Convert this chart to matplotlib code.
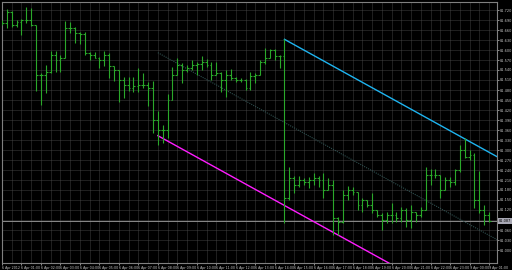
import matplotlib
matplotlib.use("Agg")
import matplotlib.pyplot as plt

# ---- data (M15 bars, price) ----
opens = [81.684, 81.681, 81.714, 81.675, 81.684, 81.690, 81.690, 81.675, 81.525, 81.525,
         81.534, 81.585, 81.570, 81.576, 81.666, 81.666, 81.651, 81.648, 81.591, 81.585,
         81.576, 81.570, 81.585, 81.552, 81.540, 81.510, 81.495, 81.486, 81.492, 81.495,
         81.495, 81.486, 81.390, 81.360, 81.360, 81.450, 81.525, 81.555, 81.540, 81.546,
         81.555, 81.558, 81.564, 81.555, 81.525, 81.531, 81.510, 81.525, 81.516, 81.510,
         81.510, 81.486, 81.522, 81.525, 81.564, 81.576, 81.600, 81.582, 81.582, 81.156,
         81.216, 81.195, 81.210, 81.204, 81.210, 81.216, 81.210, 81.180, 81.195, 81.096,
         81.084, 81.165, 81.180, 81.174, 81.135, 81.150, 81.135, 81.120, 81.105, 81.090,
         81.105, 81.105, 81.096, 81.120, 81.090, 81.114, 81.105, 81.120, 81.225, 81.225,
         81.225, 81.180, 81.210, 81.204, 81.240, 81.300, 81.279, 81.285, 81.150, 81.120,
         81.105]
highs = [81.690, 81.723, 81.717, 81.690, 81.693, 81.729, 81.726, 81.675, 81.531, 81.555,
         81.597, 81.597, 81.585, 81.687, 81.684, 81.669, 81.654, 81.654, 81.594, 81.594,
         81.579, 81.597, 81.591, 81.552, 81.540, 81.519, 81.519, 81.519, 81.546, 81.531,
         81.504, 81.507, 81.417, 81.375, 81.468, 81.549, 81.576, 81.561, 81.555, 81.570,
         81.564, 81.582, 81.573, 81.564, 81.564, 81.534, 81.540, 81.543, 81.519, 81.516,
         81.513, 81.534, 81.531, 81.570, 81.606, 81.603, 81.603, 81.585, 81.633, 81.249,
         81.222, 81.222, 81.216, 81.219, 81.231, 81.222, 81.231, 81.216, 81.210, 81.099,
         81.180, 81.192, 81.189, 81.174, 81.156, 81.150, 81.171, 81.120, 81.111, 81.114,
         81.141, 81.114, 81.129, 81.126, 81.135, 81.114, 81.129, 81.249, 81.243, 81.243,
         81.225, 81.219, 81.219, 81.243, 81.315, 81.336, 81.300, 81.291, 81.237, 81.135,
         81.114]
lows = [81.675, 81.666, 81.669, 81.669, 81.645, 81.681, 81.672, 81.477, 81.435, 81.471,
        81.531, 81.534, 81.534, 81.576, 81.651, 81.621, 81.618, 81.585, 81.570, 81.576,
        81.546, 81.552, 81.516, 81.507, 81.444, 81.456, 81.477, 81.474, 81.474, 81.486,
        81.432, 81.351, 81.315, 81.321, 81.336, 81.450, 81.525, 81.501, 81.534, 81.540,
        81.525, 81.540, 81.549, 81.510, 81.525, 81.474, 81.459, 81.510, 81.504, 81.504,
        81.480, 81.480, 81.501, 81.525, 81.558, 81.576, 81.570, 81.546, 81.081, 81.150,
        81.171, 81.189, 81.195, 81.186, 81.195, 81.189, 81.156, 81.180, 81.045, 81.045,
        81.081, 81.150, 81.165, 81.120, 81.114, 81.129, 81.111, 81.099, 81.060, 81.081,
        81.081, 81.084, 81.084, 81.069, 81.066, 81.084, 81.099, 81.120, 81.195, 81.216,
        81.156, 81.180, 81.189, 81.195, 81.234, 81.276, 81.270, 81.126, 81.111, 81.075,
        81.084]
closes = [81.681, 81.714, 81.675, 81.684, 81.690, 81.690, 81.675, 81.525, 81.525, 81.534,
          81.585, 81.570, 81.576, 81.666, 81.666, 81.651, 81.648, 81.591, 81.585, 81.576,
          81.570, 81.585, 81.552, 81.540, 81.510, 81.495, 81.486, 81.492, 81.495, 81.495,
          81.486, 81.390, 81.360, 81.360, 81.450, 81.525, 81.555, 81.540, 81.546, 81.555,
          81.558, 81.564, 81.555, 81.525, 81.531, 81.510, 81.525, 81.516, 81.510, 81.510,
          81.486, 81.522, 81.525, 81.564, 81.576, 81.600, 81.582, 81.582, 81.156, 81.216,
          81.195, 81.210, 81.204, 81.210, 81.216, 81.210, 81.180, 81.195, 81.096, 81.084,
          81.165, 81.180, 81.174, 81.135, 81.150, 81.135, 81.120, 81.105, 81.090, 81.105,
          81.105, 81.096, 81.120, 81.090, 81.114, 81.105, 81.120, 81.225, 81.225, 81.225,
          81.180, 81.210, 81.204, 81.240, 81.300, 81.279, 81.285, 81.150, 81.120, 81.105,
          81.087]

# channel lines (bar index, price)
upper_x = [58, 101.64]
upper_y = [81.632, 81.280]
lower_x = [32, 101.64]
lower_y = [81.343, 80.782]
mid_x = [32, 101.64]
mid_y = [81.592, 81.031]

price_ticks = [81.720, 81.690, 81.660, 81.630, 81.600, 81.570, 81.540, 81.510, 81.480,
               81.450, 81.420, 81.390, 81.360, 81.330, 81.300, 81.270, 81.240, 81.210,
               81.180, 81.150, 81.120, 81.090, 81.060, 81.030, 81.000]
time_labels = ["6 Apr 2012", "6 Apr 01:00", "6 Apr 02:00", "6 Apr 03:00", "6 Apr 04:00",
               "6 Apr 05:00", "6 Apr 06:00", "6 Apr 07:00", "6 Apr 08:00", "6 Apr 09:00",
               "6 Apr 10:00", "6 Apr 11:00", "6 Apr 12:00", "6 Apr 13:00", "6 Apr 14:00",
               "6 Apr 15:00", "6 Apr 16:00", "6 Apr 17:00", "6 Apr 18:00", "6 Apr 19:00",
               "6 Apr 20:00", "6 Apr 21:00", "6 Apr 22:00", "6 Apr 23:00", "9 Apr 00:00",
               "9 Apr 01:00"]

n = len(closes)
xs = list(range(n))

fig = plt.figure(figsize=(5.12, 2.70), dpi=100, facecolor="black")
ax = fig.add_axes([2 / 512, 7 / 270, 495 / 512, 261 / 270])
ax.set_facecolor("black")
ax.set_xlim(0.103, 101.64)
ax.set_ylim(80.961, 81.744)

grid_c = "#4a4a4a"
for yv in price_ticks:
    ax.axhline(yv, color=grid_c, lw=0.6, ls=(0, (1.2, 1.2)), zorder=0)
for xv in range(0, 102, 2):
    ax.axvline(xv, color=grid_c, lw=0.6, ls=(0, (1.2, 1.2)), zorder=0)

# current price line
ax.axhline(closes[-1], color="#8a8a8a", lw=0.7, zorder=1)

# channel
ax.plot(mid_x, mid_y, color="#2f4f4f", lw=0.8, ls=(0, (1, 1)), zorder=2)
ax.plot(upper_x, upper_y, color="#1eb4f0", lw=1.0, zorder=3)
ax.plot(lower_x, lower_y, color="#ff1cff", lw=1.0, zorder=3)

# OHLC bars
bar_c = "#2aa82a"
ax.vlines(xs, lows, highs, color=bar_c, lw=0.8, zorder=4)
ax.hlines(opens, [x - 0.38 for x in xs], xs, color=bar_c, lw=0.8, zorder=4)
ax.hlines(closes, xs, [x + 0.38 for x in xs], color=bar_c, lw=0.8, zorder=4)

for s in ax.spines.values():
    s.set_color("#808080")
    s.set_linewidth(0.8)

# price axis labels (the one under the current-price tag is covered by it)
ylabels = []
for v in price_ticks:
    ylabels.append("" if abs(v - closes[-1]) < 0.012 else f"{v:.3f}")
ax.yaxis.tick_right()
ax.set_yticks(price_ticks)
ax.set_yticklabels(ylabels)
ax.tick_params(axis="y", colors="#c8c8c8", labelsize=2.5, length=1.2, width=0.5, pad=0.6)
ax.set_xticks(list(range(0, 4 * len(time_labels), 4)))
ax.set_xticklabels(time_labels, ha="left")
ax.tick_params(axis="x", colors="#c8c8c8", labelsize=2.3, length=1.2, width=0.5, pad=1)

# current price tag
ax.text(1.003, closes[-1], f"{closes[-1]:.3f}", transform=ax.get_yaxis_transform(),
        fontsize=2.5, color="black", va="center", ha="left", clip_on=False,
        bbox=dict(boxstyle="square,pad=0.2", fc="#a8a8b4", ec="none"), zorder=10)

fig.savefig("out.png", dpi=100, facecolor="black")
